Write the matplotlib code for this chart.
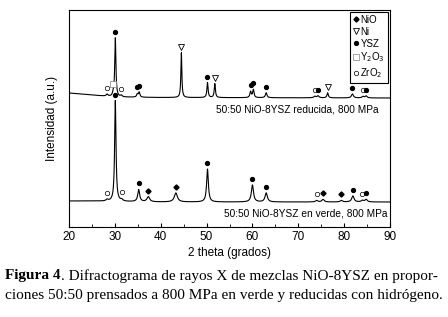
import matplotlib
matplotlib.use("Agg")
import matplotlib.pyplot as plt
import numpy as np
from matplotlib.lines import Line2D

plt.rcParams.update({"font.family": "Liberation Sans", "font.size": 8})

# background (intensity, arbitrary units) at a few 2-theta points
bg_x = [20, 25, 30, 40, 90]
top_bg = [134, 132, 130, 129.5, 129]
bot_bg = [26, 26, 25.5, 25, 25]

# reduced sample: peak position, height above background, width, phase
top_pos = [28.3, 29.6, 30.1, 31.4, 34.9, 35.3, 44.5, 50.2, 51.8, 59.6, 60.2, 63.0, 73.6, 74.3, 76.4, 81.8, 84.1, 84.8]
top_h = [2, 2, 59, 1.5, 3, 5, 45, 15, 14, 6, 8, 5, 1.5, 2, 5, 4, 1.5, 2]
top_w = [0.4, 0.3, 0.3, 0.4, 0.35, 0.35, 0.25, 0.3, 0.3, 0.35, 0.35, 0.4, 0.5, 0.5, 0.35, 0.5, 0.5, 0.5]
top_ph = ["ZrO2", "Y2O3", "YSZ", "ZrO2", "YSZ", "YSZ", "Ni", "YSZ", "Ni", "YSZ", "YSZ", "YSZ", "ZrO2", "YSZ", "Ni", "YSZ", "ZrO2", "YSZ"]

# green sample
bot_pos = [28.3, 30.1, 31.5, 35.2, 37.3, 43.3, 50.2, 60.0, 63.0, 74.0, 75.4, 79.4, 81.9, 84.0, 84.8]
bot_h = [1.5, 101, 1.5, 12, 5, 9, 33, 17, 9, 1.5, 2.5, 1.5, 6, 1.5, 2.5]
bot_w = [0.5, 0.35, 0.5, 0.5, 0.7, 0.8, 0.45, 0.55, 0.6, 0.6, 0.6, 0.6, 0.6, 0.6, 0.6]
bot_ph = ["ZrO2", "YSZ", "ZrO2", "YSZ", "NiO", "NiO", "YSZ", "YSZ", "YSZ", "ZrO2", "NiO", "NiO", "YSZ", "ZrO2", "YSZ"]

styles = {
    "NiO": dict(marker="D", ms=2.6, mfc="black", mec="black"),
    "Ni": dict(marker="v", ms=5, mfc="white", mec="black", mew=0.6),
    "YSZ": dict(marker="o", ms=2.8, mfc="black", mec="black"),
    "Y2O3": dict(marker="s", ms=4, mfc="white", mec="0.5", mew=0.5),
    "ZrO2": dict(marker="o", ms=3.2, mfc="white", mec="black", mew=0.5),
}

x = np.linspace(20, 90, 3500)


def profile(bg, pos, h, w):
    y = np.interp(x, bg_x, bg)
    for p, a, g in zip(pos, h, w):
        y = y + a / (1 + ((x - p) / (g / 2)) ** 2)
    return y


fig = plt.figure(figsize=(4.48, 3.17), dpi=100)
ax = fig.add_axes([69/448, 1-227/317, 321/448, 217/317])

for bg, pos, h, w, ph in ((top_bg, top_pos, top_h, top_w, top_ph),
                          (bot_bg, bot_pos, bot_h, bot_w, bot_ph)):
    y = profile(bg, pos, h, w)
    ax.plot(x, y, color="black", lw=0.8)
    for p, phase in zip(pos, ph):
        ytop = np.interp(p, x, y)
        ax.plot(p, ytop + 6, ls="none", **styles[phase])

ax.text(87.5, 117, "50:50 NiO-8YSZ reducida, 800 MPa", ha="right", va="center", fontsize=7.3)
ax.text(89.5, 14, "50:50 NiO-8YSZ en verde, 800 MPa", ha="right", va="center", fontsize=7.3)

handles = [Line2D([], [], ls="none", **styles[k]) for k in ["NiO", "Ni", "YSZ", "Y2O3", "ZrO2"]]
labels = ["NiO", "Ni", "YSZ", "Y$_2$O$_3$", "ZrO$_2$"]
leg = ax.legend(handles, labels, loc="upper right", fontsize=7, handlelength=0.6,
                handletextpad=0.2, borderpad=0.3, labelspacing=0.2, fancybox=False,
                framealpha=1, edgecolor="black", borderaxespad=0.2)
leg.get_frame().set_linewidth(0.8)

ax.set_xlim(20, 90)
ax.set_ylim(0, 217)
ax.set_yticks([])
ax.set_xticks(np.arange(20, 91, 10))
ax.set_xticks(np.arange(25, 90, 10), minor=True)
ax.tick_params(axis="x", direction="in", length=3, labelsize=8.5, pad=3)
ax.tick_params(axis="x", which="minor", direction="in", length=2)
ax.set_xlabel("2 theta (grados)", fontsize=8.5, labelpad=3)
ax.set_ylabel("Intensidad (a.u.)", fontsize=8.5, labelpad=8)

# caption
cap_font = "Liberation Serif"
cap_size = 11
t1 = fig.text(5/448, 1-276/317, "Figura 4", fontsize=cap_size, family=cap_font, weight="bold", va="center")
fig.canvas.draw()
bb = t1.get_window_extent()
fig.text(bb.x1/448, 1-276/317, ". Difractograma de rayos X de mezclas NiO-8YSZ en propor-",
         fontsize=cap_size, family=cap_font, va="center")
fig.text(5/448, 1-296/317, "ciones 50:50 prensados a 800 MPa en verde y reducidas con hidrógeno.",
         fontsize=cap_size, family=cap_font, va="center")

fig.savefig("out.png", dpi=100)
